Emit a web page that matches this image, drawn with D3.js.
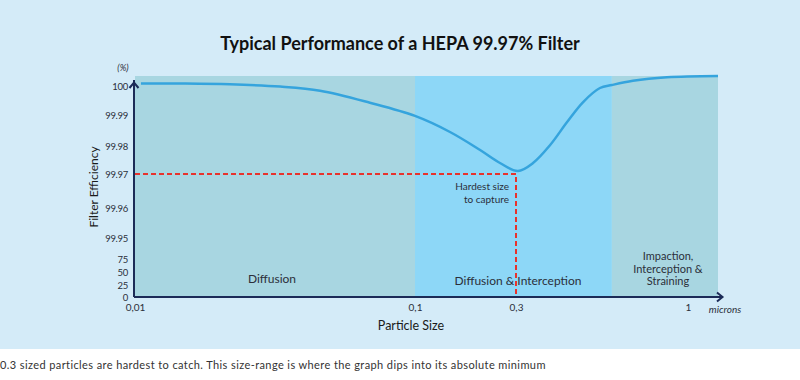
<!DOCTYPE html>
<html><head><meta charset="utf-8">
<script src="https://cdn.jsdelivr.net/npm/d3@7"></script>
<style>body{margin:0;background:#fff;}svg{display:block;font-family:Lato,"Open Sans",sans-serif;}</style>
</head><body>
<svg id="c" width="800" height="380"></svg>
<script>
// ---- data ----
const particleSize = [0.0105,0.0145,0.0218,0.033,0.0458,0.069,0.1,0.1463,0.203,0.252,0.304,0.338,0.381,0.429,0.48,0.54,0.587,0.68,0.863,1.23];
const efficiency   = [100.0009,100.00086,100.0006,99.9998,99.99838,99.99424,99.9897,99.98452,99.97857,99.97393,99.97107,99.97393,99.98032,99.98774,99.99448,99.99931,100.00034,100.0018,100.003,100.00345];
const xTickValues = [0.01,0.1,0.3,1];
const xTickLabels = ["0,01","0,1","0,3","1"];
const yTickValues = [0,25,50,75,99.95,99.96,99.97,99.98,99.99,100];
const yTickLabels = ["0","25","50","75","99.95","99.96","99.97","99.98","99.99","100"];
const regionStarts = [0.01,0.1,0.587];
const regionEnds   = [0.1,0.587,1.23];
const regionNames  = [["Diffusion"],["Diffusion & Interception"],["Impaction,","Interception &","Straining"]];
const hardestSize = 0.3, hardestEff = 99.97;

const svg = d3.select("#c");
svg.append("rect").attr("x",0).attr("y",0).attr("width",800).attr("height",349).attr("fill","#d4ebf8");

const x = d3.scaleLog().domain([0.01,0.1,0.3,1,1.23]).range([135,415,516,688,718]);
const y = d3.scaleLinear().domain(yTickValues).range([297,285,272,259,238,208,174,146,115,86]);
const plotTop = 76, plotBottom = 297;

const regionFill = ["#a8d6e1","#8dd7f7","#a8d6e1"];
regionStarts.forEach((s,i)=>{
  svg.append("rect").attr("x",x(s)).attr("y",plotTop).attr("width",x(regionEnds[i])-x(s)).attr("height",plotBottom-plotTop).attr("fill",regionFill[i]);
});

// region labels
const rl = [[272,279],[518,281],[668,256]];
regionNames.forEach((lines,i)=>{
  const t = svg.append("text").attr("text-anchor","middle").attr("font-size",i==2?11:12).attr("fill","#2b2f3a");
  lines.forEach((l,j)=>t.append("tspan").attr("x",rl[i][0]).attr("y",rl[i][1]+4+j*12.5).text(l));
});

// red dashed
svg.append("path").attr("d",`M${x(0.01)},${y(hardestEff)}H${x(hardestSize)}V${plotBottom}`)
  .attr("fill","none").attr("stroke","#e8322c").attr("stroke-width",2).attr("stroke-dasharray","5,3");
svg.append("text").attr("text-anchor","end").attr("font-size",10).attr("fill","#2b2f3a")
  .selectAll("tspan").data(["Hardest size","to capture"]).join("tspan")
  .attr("x",x(hardestSize)-7).attr("y",(d,i)=>190+i*12.5).text(d=>d);

// curve
const line = d3.line().x((d,i)=>x(particleSize[i])).y(d=>y(d)).curve(d3.curveCatmullRom.alpha(0.5));
svg.append("path").attr("d",line(efficiency)).attr("fill","none").attr("stroke","#35a4dd").attr("stroke-width",2.5);

// axes
const navy = "#1b2b57";
svg.append("path").attr("d",`M134,${plotBottom}H722`).attr("stroke",navy).attr("stroke-width",2).attr("fill","none");
svg.append("path").attr("d",`M134,${plotBottom}V80`).attr("stroke",navy).attr("stroke-width",2).attr("fill","none");
svg.append("path").attr("d",`M129.5,88L134,82.5L138.5,88`).attr("stroke",navy).attr("stroke-width",2).attr("fill","none");
svg.append("path").attr("d",`M717,292.5L722.5,${plotBottom}L717,301.5`).attr("stroke",navy).attr("stroke-width",2).attr("fill","none");

const yAxis = d3.axisLeft(y).tickValues(yTickValues).tickFormat((d,i)=>yTickLabels[i]).tickSize(0).tickPadding(0);
const gy = svg.append("g").attr("transform","translate(128,0)").call(yAxis);
gy.select(".domain").remove();
gy.selectAll("text").attr("font-size",9.5).attr("fill","#2b2f3a").attr("font-family","Lato,sans-serif").attr("dy","0.35em").attr("letter-spacing",-0.3);

const xAxis = d3.axisBottom(x).tickValues(xTickValues).tickFormat((d,i)=>xTickLabels[i]).tickSize(0).tickPadding(0);
const gx = svg.append("g").attr("transform",`translate(0,${plotBottom+7})`).call(xAxis);
gx.select(".domain").remove();
gx.selectAll("text").attr("font-size",10).attr("fill","#2b2f3a").attr("font-family","Lato,sans-serif");

svg.append("text").attr("x",725).attr("y",313).attr("text-anchor","middle").attr("font-size",10).attr("font-style","italic").attr("fill","#2b2f3a").text("microns");
svg.append("text").attr("x",123).attr("y",71).attr("text-anchor","middle").attr("font-size",9).attr("font-style","italic").attr("fill","#2b2f3a").text("(%)");
svg.append("text").attr("transform","translate(98,187) rotate(-90)").attr("text-anchor","middle").attr("font-size",12).attr("fill","#1a1a1a").text("Filter Efficiency");
svg.append("text").attr("x",411).attr("y",330).attr("text-anchor","middle").attr("font-size",12.5).attr("fill","#1a1a1a").text("Particle Size");

svg.append("text").attr("x",400).attr("y",50).attr("text-anchor","middle").attr("font-size",18).attr("font-weight","bold").attr("fill","#111").text("Typical Performance of a HEPA 99.97% Filter");
svg.append("text").attr("x",0).attr("y",369).attr("font-size",11).attr("letter-spacing",0.4).attr("fill","#333").text("0.3 sized particles are hardest to catch. This size-range is where the graph dips into its absolute minimum");
</script>
</body></html>
